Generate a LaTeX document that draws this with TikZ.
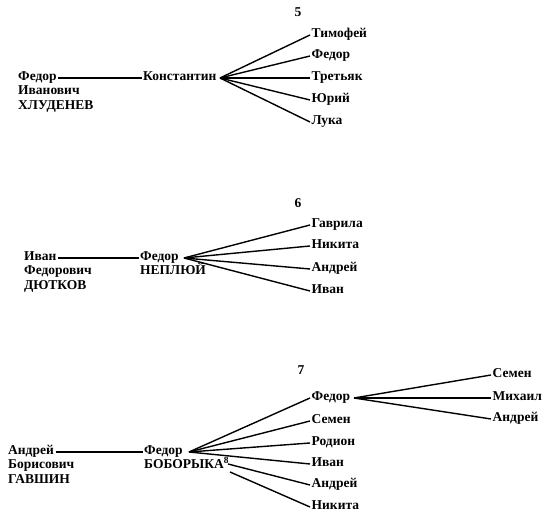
\documentclass[tikz,border=0pt]{standalone}
\usepackage{fontspec}
\setmainfont{Liberation Serif}
\usetikzlibrary{positioning}

\tikzset{
  nm/.style={inner sep=1.5pt, text height=8pt, text depth=3pt,
    font=\fontsize{13.5}{15}\selectfont\bfseries},
  nr/.style={inner sep=1pt, font=\fontsize{13.5}{15}\selectfont\bfseries},
  branch/.style={line width=1.4pt}
}

\begin{document}
\begin{tikzpicture}[x=1pt,y=-1pt]
  \useasboundingbox (0,0) rectangle (550,518);

  % table 5
  \node[nr] (nr5) at (298,12) {5};
  \node[nm, anchor=west] (fedor5) at (16.5,78) {Федор};
  \node[nm, anchor=north west] (ivanovich5) at (fedor5.south west) {Иванович};
  \node[nm, anchor=north west] (khludenev) at (ivanovich5.south west) {ХЛУДЕНЕВ};
  \node[nm, anchor=west] (konstantin) at (141.5,78) {Константин};
  \coordinate (fan5) at (220,78);
  \node[nm, anchor=west] (timofej) at (310,35) {Тимофей};
  \node[nm, anchor=west] (fedor5b) at (310,56) {Федор};
  \node[nm, anchor=west] (tretjak) at (310,78) {Третьяк};
  \node[nm, anchor=west] (jurij) at (310,100) {Юрий};
  \node[nm, anchor=west] (luka) at (310,122) {Лука};
  \path[branch]
    (fedor5) edge (konstantin)
    (fan5) edge (timofej.west)
    (fan5) edge (fedor5b.west)
    (fan5) edge (tretjak.west)
    (fan5) edge (jurij.west)
    (fan5) edge (luka.west)
    ;

  % table 6
  \node[nr] (nr6) at (298,203) {6};
  \node[nm, anchor=west] (ivan6) at (22.5,258) {Иван};
  \node[nm, anchor=north west] (fedorovich6) at (ivan6.south west) {Федорович};
  \node[nm, anchor=north west] (djutkov) at (fedorovich6.south west) {ДЮТКОВ};
  \node[nm, anchor=west] (fedor6) at (138.5,258) {Федор};
  \node[nm, anchor=north west] (nepljuj) at (fedor6.south west) {НЕПЛЮЙ};
  \coordinate (fan6) at (184,258);
  \node[nm, anchor=west] (gavrila) at (310,225) {Гаврила};
  \node[nm, anchor=west] (nikita6) at (310,246) {Никита};
  \node[nm, anchor=west] (andrej6) at (310,269) {Андрей};
  \node[nm, anchor=west] (ivan6b) at (310,291) {Иван};
  \path[branch]
    (ivan6) edge (fedor6)
    (fan6) edge (gavrila.west)
    (fan6) edge (nikita6.west)
    (fan6) edge (andrej6.west)
    (fan6) edge (ivan6b.west)
    ;

  % table 7
  \node[nr] (nr7) at (301,370) {7};
  \node[nm, anchor=west] (andrej7) at (6.5,452) {Андрей};
  \node[nm, anchor=north west] (borisovich7) at (andrej7.south west) {Борисович};
  \node[nm, anchor=north west] (gavshin) at (borisovich7.south west) {ГАВШИН};
  \node[nm, anchor=west] (fedor7) at (142.5,452) {Федор};
  \node[nm, anchor=north west] (boboryka) at (fedor7.south west) {БОБОРЫКА\textsuperscript{8}};
  \coordinate (fan7) at (189,452);
  \coordinate (bob1) at (228,464);
  \coordinate (bob2) at (230,472);
  \node[nm, anchor=west] (fedor7b) at (310,398) {Федор};
  \node[nm, anchor=west] (semen7) at (310,421) {Семен};
  \node[nm, anchor=west] (rodion) at (310,443) {Родион};
  \node[nm, anchor=west] (ivan7) at (310,464) {Иван};
  \node[nm, anchor=west] (andrej7b) at (310,485) {Андрей};
  \node[nm, anchor=west] (nikita7) at (310,507) {Никита};
  \coordinate (fan7b) at (354,398);
  \node[nm, anchor=west] (semen7b) at (491,375) {Семен};
  \node[nm, anchor=west] (mikhail) at (491,398) {Михаил};
  \node[nm, anchor=west] (andrej7c) at (491,419) {Андрей};
  \path[branch]
    (andrej7) edge (fedor7)
    (fan7) edge (fedor7b.west)
    (fan7) edge (semen7.west)
    (fan7) edge (rodion.west)
    (fan7) edge (ivan7.west)
    (bob1) edge (andrej7b.west)
    (bob2) edge (nikita7.west)
    (fan7b) edge (semen7b.west)
    (fan7b) edge (mikhail.west)
    (fan7b) edge (andrej7c.west)
    ;
\end{tikzpicture}
\end{document}
